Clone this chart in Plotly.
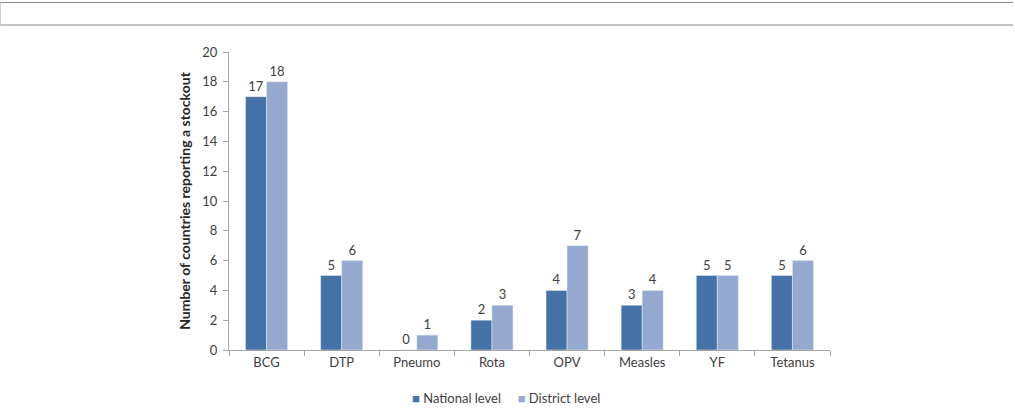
import plotly.graph_objects as go

categories = ["BCG", "DTP", "Pneumo", "Rota", "OPV", "Measles", "YF", "Tetanus"]
national = [17, 5, 0, 2, 4, 3, 5, 5]
district = [18, 6, 1, 3, 7, 4, 5, 6]
y_ticks = [0, 2, 4, 6, 8, 10, 12, 14, 16, 18, 20]
series_names = ["National level", "District level"]
series_colors = ["#4472A6", "#94A8D0"]

FONT = "Lato, 'Open Sans', sans-serif"
TXT = "#404040"

L, R, T, B = 229, 185, 52, 60
W, H = 1015, 410
pw, ph = W - L - R, H - T - B

def px2x(px):
    return (px - L) / pw

def py2y(py):
    return (H - B - py) / ph

fig = go.Figure()
for name, vals, col in zip(series_names, [national, district], series_colors):
    fig.add_bar(x=categories, y=vals, name=name, marker_color=col,
                text=[str(v) for v in vals], textposition="outside",
                textfont=dict(size=13, color=TXT, family=FONT), cliponaxis=False,
                showlegend=False)

shapes = []
for py in (2.5, 25):
    shapes.append(dict(type="line", xref="paper", yref="paper",
                       x0=px2x(0), x1=px2x(1013), y0=py2y(py), y1=py2y(py),
                       line=dict(color="#8a8a8a", width=1)))
shapes.append(dict(type="line", xref="paper", yref="paper",
                   x0=px2x(0.5), x1=px2x(0.5), y0=py2y(2.5), y1=py2y(25),
                   line=dict(color="#d0d0d0", width=1)))

legend_text = "&nbsp;&nbsp;&nbsp;&nbsp;&nbsp;".join(
    f'<span style="color:{c}">■</span> {n}' for n, c in zip(series_names, series_colors))

fig.update_layout(
    width=W, height=H,
    margin=dict(l=L, r=R, t=T, b=B, autoexpand=False),
    paper_bgcolor="white", plot_bgcolor="white",
    barmode="group", bargap=0.44, bargroupgap=0,
    font=dict(family=FONT, size=13, color=TXT),
    showlegend=False,
    annotations=[dict(text=legend_text, xref="paper", yref="paper",
                      x=px2x(506), y=py2y(398), xanchor="center", yanchor="middle",
                      showarrow=False, font=dict(size=13, color=TXT, family=FONT))],
    shapes=shapes,
    xaxis=dict(showline=True, linecolor="#A6A6A6", linewidth=1, ticks="outside",
               tickson="boundaries", ticklen=5, tickcolor="#A6A6A6",
               tickfont=dict(size=13, color=TXT, family=FONT), showgrid=False),
    yaxis=dict(range=[0, 20], tickvals=y_ticks, showline=True, linecolor="#A6A6A6",
               linewidth=1, ticks="outside", ticklen=5, tickcolor="#A6A6A6",
               ticklabelstandoff=3,
               tickfont=dict(size=13, color=TXT, family=FONT), showgrid=False,
               zeroline=False,
               title=dict(text="<b>Number of countries reporting a stockout</b>",
                          font=dict(size=14, color="#262626", family=FONT), standoff=8)),
)

fig.write_html("out.html")
